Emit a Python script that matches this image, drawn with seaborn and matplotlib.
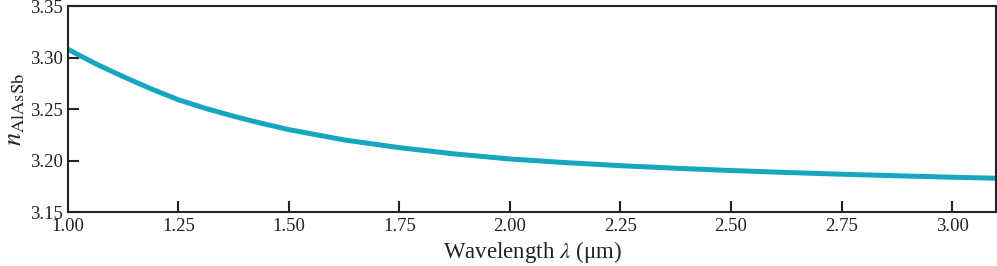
import numpy as np
import pandas as pd
import matplotlib
matplotlib.use("Agg")
import matplotlib.pyplot as plt
import seaborn as sns

# ── data ──
wavelength = [1.000, 1.0625, 1.125, 1.1875, 1.25, 1.3125, 1.375, 1.4375, 1.50,
              1.625, 1.75, 1.875, 2.00, 2.125, 2.25, 2.375, 2.50,
              2.625, 2.75, 2.875, 3.00, 3.10]
n_alassb = [3.308, 3.2940, 3.2815, 3.2697, 3.2590, 3.2505, 3.2430, 3.2362, 3.2300,
            3.2200, 3.2125, 3.2064, 3.2015, 3.1980, 3.1950, 3.1925, 3.1903,
            3.1884, 3.1867, 3.1852, 3.1838, 3.1828]
x_ticks = [1.00, 1.25, 1.50, 1.75, 2.00, 2.25, 2.50, 2.75, 3.00]
y_ticks = [3.15, 3.20, 3.25, 3.30, 3.35]

df = pd.DataFrame({"wavelength": wavelength, "n": n_alassb})

sns.set_style("ticks")
plt.rcParams["font.family"] = ["Liberation Serif", "DejaVu Serif"]
plt.rcParams["mathtext.fontset"] = "stix"

fig = plt.figure(figsize=(9.97, 2.66), dpi=100)
ax = fig.add_axes([0.0682, 0.203, 0.931, 0.774])

sns.lineplot(data=df, x="wavelength", y="n", ax=ax, color="#17a6c0",
             linewidth=3.6, solid_capstyle="butt")

ax.set_xlim(1.00, 3.10)
ax.set_ylim(3.15, 3.35)
ax.set_xticks(x_ticks)
ax.set_yticks(y_ticks)
ax.set_xticklabels([f"{v:.2f}" for v in x_ticks])
ax.set_yticklabels([f"{v:.2f}" for v in y_ticks])
ax.tick_params(direction="in", length=8, width=1.5, labelsize=13.5,
               colors="#222222", pad=4)

for s in ax.spines.values():
    s.set_linewidth(1.5)
    s.set_color("#222222")
    s.set_visible(True)

ax.set_xlabel(r"Wavelength $\lambda$ (μm)", fontsize=16.5, color="#222222", labelpad=3)
ax.set_ylabel(r"$n_{\mathrm{AlAsSb}}$", fontsize=19, color="#222222", labelpad=2)

fig.savefig("out.png", dpi=100)
